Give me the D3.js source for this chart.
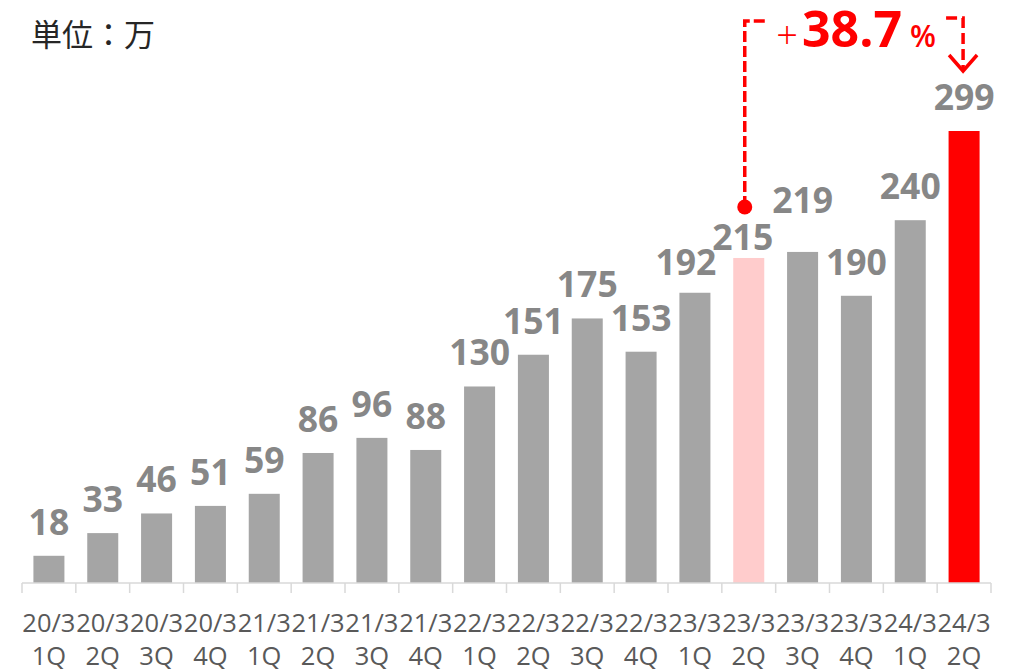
<!DOCTYPE html>
<html>
<head>
<meta charset="utf-8">
<script src="https://cdn.jsdelivr.net/npm/d3@7"></script>
<style>
  html, body { margin: 0; padding: 0; background: #fff; }
  svg { display: block; }
</style>
</head>
<body>
<div id="chart"></div>
<script>
// ---- data ----
const periods = ["20/3","20/3","20/3","20/3","21/3","21/3","21/3","21/3","22/3","22/3","22/3","22/3","23/3","23/3","23/3","23/3","24/3","24/3"];
const quarters = ["1Q","2Q","3Q","4Q","1Q","2Q","3Q","4Q","1Q","2Q","3Q","4Q","1Q","2Q","3Q","4Q","1Q","2Q"];
const values = [18,33,46,51,59,86,96,88,130,151,175,153,192,215,219,190,240,299];
const unitLabel = "単位：万";
const growthSign = "+";
const growthValue = "38.7";
const growthUnit = "%";
const compareFrom = 13; // index of 23/3 2Q
const compareTo = 17;   // index of 24/3 2Q

// ---- layout ----
const W = 1015, H = 671;
const svg = d3.select("#chart").append("svg").attr("width", W).attr("height", H);

const keys = values.map((d, i) => i);
const x = d3.scaleBand().domain(keys).range([22, 991]).paddingInner(0.424).paddingOuter(0.212);
const y = d3.scaleLinear().domain([0, 299]).range([583, 131]);

const colorFor = i => i === compareTo ? "#ff0000" : (i === compareFrom ? "#ffcccc" : "#a5a5a5");

// bars
svg.append("g").selectAll("rect").data(values).join("rect")
  .attr("x", (d, i) => x(i))
  .attr("width", x.bandwidth())
  .attr("y", d => y(d))
  .attr("height", d => y(0) - y(d))
  .attr("fill", (d, i) => colorFor(i));

// axis line and ticks at band boundaries
const step = x.step();
const x0 = x.range()[0];
const axisG = svg.append("g");
axisG.append("line")
  .attr("x1", x0).attr("x2", x.range()[1])
  .attr("y1", y(0)).attr("y2", y(0))
  .attr("stroke", "#d9d9d9").attr("stroke-width", 1.5);
axisG.selectAll("line.tick").data(d3.range(values.length + 1)).join("line")
  .attr("class", "tick")
  .attr("x1", d => x0 + d * step).attr("x2", d => x0 + d * step)
  .attr("y1", y(0)).attr("y2", y(0) + 10)
  .attr("stroke", "#d9d9d9").attr("stroke-width", 1.5);

// category labels
const catG = svg.append("g")
  .attr("font-family", "'Open Sans', 'Noto Sans', sans-serif")
  .attr("font-size", 25.5)
  .attr("fill", "#595959")
  .attr("text-anchor", "middle");
const cat = catG.selectAll("text").data(keys).join("text")
  .attr("x", i => x(i) + x.bandwidth() / 2);
cat.append("tspan").attr("x", i => x(i) + x.bandwidth() / 2).attr("y", 632).text(i => periods[i]);
cat.append("tspan").attr("x", i => x(i) + x.bandwidth() / 2).attr("y", 665).text(i => quarters[i]);

// value labels (a few nudged as in the original)
const nudge = { 12: [-9, 3], 13: [-6, 13], 14: [0, -18] };
svg.append("g")
  .attr("font-family", "'Open Sans', 'Noto Sans', sans-serif")
  .attr("font-size", 35.5)
  .attr("font-weight", "bold")
  .attr("fill", "#878787")
  .attr("text-anchor", "middle")
  .selectAll("text").data(values).join("text")
  .attr("x", (d, i) => x(i) + x.bandwidth() / 2 + (nudge[i] ? nudge[i][0] : 0))
  .attr("y", (d, i) => y(d) - 21 + (nudge[i] ? nudge[i][1] : 0))
  .text(d => d);

// unit label
svg.append("text")
  .attr("x", 31).attr("y", 46)
  .attr("font-family", "'Noto Sans CJK JP', sans-serif")
  .attr("font-size", 31)
  .attr("fill", "#262626")
  .text(unitLabel);

// growth annotation
const red = "#ff0000";
const fromX = x(compareFrom) + x.bandwidth() / 2 - 4;
const toX = x(compareTo) + x.bandwidth() / 2 - 1;
const dotY = y(values[compareFrom]) - 51;
const topY = 21;
const ann = svg.append("g");
ann.append("path")
  .attr("d", `M${fromX},${dotY} V${topY} H${fromX + 22}`)
  .attr("fill", "none").attr("stroke", red).attr("stroke-width", 3.5)
  .attr("stroke-dasharray", "11,4");
ann.append("path")
  .attr("d", `M${toX - 17},${topY - 3} H${toX} V${topY + 50}`)
  .attr("fill", "none").attr("stroke", red).attr("stroke-width", 3.5)
  .attr("stroke-dasharray", "11,5");
ann.append("path")
  .attr("d", `M${toX - 14},${topY + 34} L${toX},${topY + 50} L${toX + 14},${topY + 34}`)
  .attr("fill", "none").attr("stroke", red).attr("stroke-width", 3.5);
ann.append("circle")
  .attr("cx", fromX).attr("cy", dotY).attr("r", 7.5).attr("fill", red);

const annFont = "'Open Sans', 'Noto Sans', sans-serif";
ann.append("text")
  .attr("x", 787).attr("y", 49).attr("text-anchor", "middle")
  .attr("font-family", annFont).attr("font-size", 38).attr("font-weight", 300)
  .attr("fill", red).text(growthSign);
ann.append("text")
  .attr("x", 802).attr("y", 47)
  .attr("font-family", annFont).attr("font-size", 50).attr("font-weight", "bold")
  .attr("fill", red).text(growthValue);
ann.append("text")
  .attr("x", 910).attr("y", 47)
  .attr("font-family", annFont).attr("font-size", 30).attr("font-weight", 600)
  .attr("fill", red).text(growthUnit);
</script>
</body>
</html>
